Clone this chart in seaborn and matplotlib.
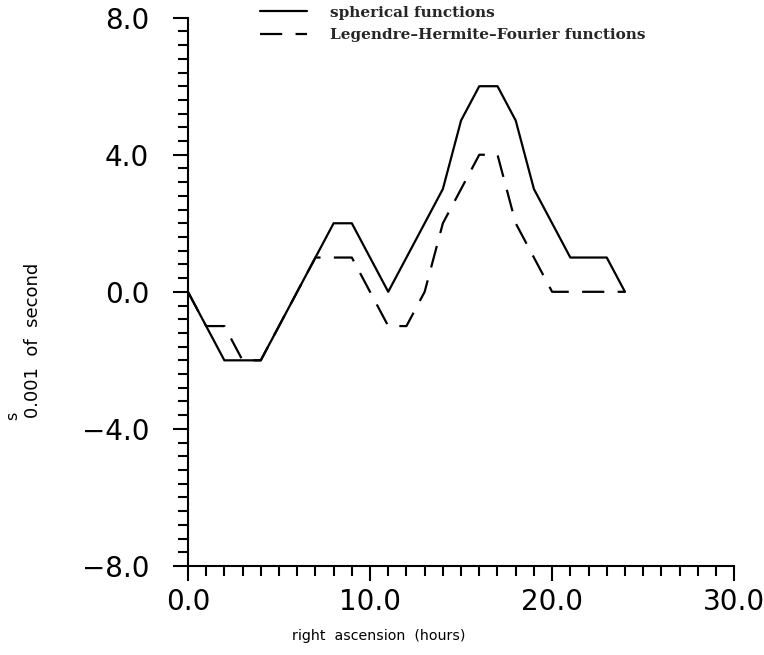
import matplotlib
matplotlib.use("Agg")
import matplotlib.pyplot as plt
import seaborn as sns
import pandas as pd
from matplotlib.ticker import MultipleLocator, FuncFormatter
from matplotlib.lines import Line2D

# ---- data ----
hours = list(range(25))
spherical = [0, -1, -2, -2, -2, -1, 0, 1, 2, 2, 1, 0, 1, 2, 3, 5, 6, 6, 5, 3, 2, 1, 1, 1, 0]
legendre_hf = [0, -1, -1, -2, -2, -1, 0, 1, 1, 1, 0, -1, -1, 0, 2, 3, 4, 4, 2, 1, 0, 0, 0, 0, 0]
series_names = ["spherical functions", "Legendre\u2013Hermite\u2013Fourier functions"]
x_ticks = [0, 10, 20, 30]
y_ticks = [-8, -4, 0, 4, 8]

df = pd.DataFrame({
    "hour": hours + hours,
    "value": spherical + legendre_hf,
    "method": [series_names[0]] * len(hours) + [series_names[1]] * len(hours),
})

sns.set_style("ticks")
plt.rcParams["font.family"] = ["DejaVu Sans"]

fig = plt.figure(figsize=(7.64, 6.55), dpi=100)
ax = fig.add_axes([0.246, 0.136, 0.715, 0.837])

dash_pat = (10, 6)
sns.lineplot(data=df, x="hour", y="value", style="method",
             dashes={series_names[0]: "", series_names[1]: dash_pat},
             color="black", linewidth=1.6, ax=ax, legend=False)

ax.set_xlim(0, 30)
ax.set_ylim(-8, 8)
ax.set_xticks(x_ticks)
ax.set_yticks(y_ticks)
ax.xaxis.set_minor_locator(MultipleLocator(1))
ax.yaxis.set_minor_locator(MultipleLocator(0.4))
fmt = FuncFormatter(lambda v, p: f"{v:.1f}".replace("-", "\u2212"))
ax.xaxis.set_major_formatter(fmt)
ax.yaxis.set_major_formatter(fmt)
ax.set_xlabel("")
ax.set_ylabel("")
sns.despine(ax=ax)
for s in ["left", "bottom"]:
    ax.spines[s].set_linewidth(1.5)
    ax.spines[s].set_color("black")
ax.tick_params(which="major", direction="out", length=11, width=1.5,
               labelsize=20, color="black", labelcolor="black")
ax.tick_params(axis="y", which="major", pad=17)
ax.tick_params(axis="x", which="major", pad=5)
ax.tick_params(which="minor", direction="out", length=7, width=1.5, color="black")

fig.text(379 / 764, 1 - 636 / 655, "right  ascension  (hours)", ha="center", va="center",
         fontsize=10.2, color="black")
fig.text(33 / 764, 1 - 340 / 655, "0.001  of  second",
         rotation=90, ha="center", va="center", fontsize=13, color="black")
fig.text(13 / 764, 1 - 416 / 655, "s",
         rotation=90, ha="center", va="center", fontsize=11.5, color="black")

handles = [Line2D([], [], color="black", lw=1.6),
           Line2D([], [], color="black", lw=1.6, dashes=dash_pat)]
fig.legend(handles=handles, labels=series_names, loc="upper left",
           bbox_to_anchor=(252 / 764, 1.0 + 2 / 655), frameon=False,
           prop={"family": "DejaVu Serif", "size": 11, "weight": "bold"},
           handlelength=3.1, handletextpad=1.5, labelspacing=0.55, borderpad=0.0)

fig.savefig("out.png", dpi=100)
